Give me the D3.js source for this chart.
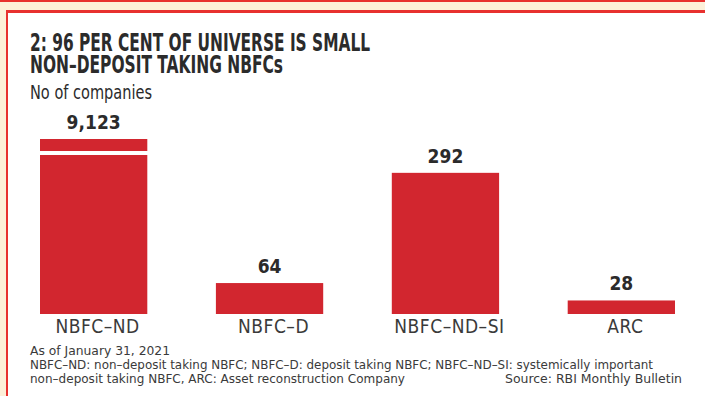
<!DOCTYPE html>
<html>
<head>
<meta charset="utf-8">
<script src="https://cdn.jsdelivr.net/npm/d3@7"></script>
<style>
  body { margin: 0; background: #fdf0d9; }
  svg { display: block; }
  text { font-family: "DejaVu Sans Condensed", "DejaVu Sans", sans-serif; }
</style>
</head>
<body>
<script>
// data
var categories = ["NBFC-ND", "NBFC-D", "NBFC-ND-SI", "ARC"];
var counts     = [9123, 64, 292, 28];
var labels     = ["9,123", "64", "292", "28"];

var W = 705, H = 396;
var red = "#d2262f";
var ink = "#2b2b2b";

var svg = d3.select("body")
            .append("svg")
            .attr("width",  W)
            .attr("height", H);

// frame
svg.append("rect").attr("x", 0).attr("y", 0).attr("width", W).attr("height", H).attr("fill", "#fdf0d9");
svg.append("rect").attr("x", 0).attr("y", 0).attr("width", W).attr("height", 2).attr("fill", "#e8312f");
svg.append("rect").attr("x", 7).attr("y", 11).attr("width", W).attr("height", H).attr("fill", "#fff");
svg.append("rect").attr("x", 6).attr("y", 10).attr("width", W).attr("height", 3).attr("fill", "#e8312f");
svg.append("rect").attr("x", 6).attr("y", 10).attr("width", 2).attr("height", H).attr("fill", "#e8312f");

// titles
svg.append("text").attr("x", 30).attr("y", 51)
   .attr("font-size", 24).attr("font-weight", "bold").attr("fill", ink)
   .attr("textLength", 340).attr("lengthAdjust", "spacingAndGlyphs")
   .text("2: 96 PER CENT OF UNIVERSE IS SMALL");
svg.append("text").attr("x", 30).attr("y", 73)
   .attr("font-size", 24).attr("font-weight", "bold").attr("fill", ink)
   .attr("textLength", 253).attr("lengthAdjust", "spacingAndGlyphs")
   .text("NON\u2013DEPOSIT TAKING NBFCs");
svg.append("text").attr("x", 30).attr("y", 99)
   .attr("font-size", 19).attr("fill", ink)
   .attr("textLength", 122).attr("lengthAdjust", "spacingAndGlyphs")
   .text("No of companies");

// scales
var x = d3.scaleBand()
          .domain(categories)
          .range([40, 675])
          .paddingInner(0.39)
          .paddingOuter(0);

var y = d3.scaleLinear()
          .domain([0, 362])   // bar for 9,123 is cut off (broken bar)
          .range([314, 139])
          .clamp(true);

var data = categories.map(function(c, i){ return {cat: c, v: counts[i], lab: labels[i]}; });

svg.selectAll("rect.bar")
   .data(data)
   .enter()
   .append("rect")
   .attr("class", "bar")
   .attr("x", function(d){ return x(d.cat); })
   .attr("y", function(d){ return y(d.v); })
   .attr("width", x.bandwidth())
   .attr("height", function(d){ return y(0) - y(d.v); })
   .attr("fill", red);

// break in the bar that goes off the scale
svg.selectAll("rect.brk")
   .data(data.filter(function(d){ return d.v > y.domain()[1]; }))
   .enter()
   .append("rect")
   .attr("class", "brk")
   .attr("x", function(d){ return x(d.cat) - 1; })
   .attr("y", y(y.domain()[1]) + 12)
   .attr("width", x.bandwidth() + 2)
   .attr("height", 4)
   .attr("fill", "#fff");

// value labels
svg.selectAll("text.val")
   .data(data)
   .enter()
   .append("text")
   .attr("class", "val")
   .attr("x", function(d){ return x(d.cat) + x.bandwidth() / 2; })
   .attr("y", function(d){ return y(d.v) - 10; })
   .attr("text-anchor", "middle")
   .attr("font-size", 19).attr("font-weight", "bold").attr("fill", ink)
   .text(function(d){ return d.lab; });

// category axis
var xAxis = svg.append("g")
   .attr("transform", "translate(4," + y(0) + ")")
   .call(d3.axisBottom(x).tickSize(0).tickPadding(5));
xAxis.select(".domain").remove();
xAxis.selectAll("text")
   .attr("font-size", 19).attr("fill", "#3a3a3a")
   .style("font-family", "\"DejaVu Sans Condensed\", \"DejaVu Sans\", sans-serif")
   .style("letter-spacing", "0.5px")
   .attr("dy", "0.75em")
   .text(function(d){ return d.replace(/-/g, "\u2013"); });

// footnotes
var notes = svg.append("g").attr("fill", "#3a3a3a");
notes.append("text").attr("x", 30).attr("y", 355).attr("font-size", 13)
     .attr("textLength", 140).attr("lengthAdjust", "spacingAndGlyphs")
     .text("As of January 31, 2021");
notes.append("text").attr("x", 30).attr("y", 369).attr("font-size", 13)
     .attr("textLength", 623).attr("lengthAdjust", "spacingAndGlyphs")
     .text("NBFC\u2013ND: non\u2013deposit taking NBFC; NBFC\u2013D: deposit taking NBFC; NBFC\u2013ND\u2013SI: systemically important");
notes.append("text").attr("x", 30).attr("y", 383).attr("font-size", 13)
     .attr("textLength", 375).attr("lengthAdjust", "spacingAndGlyphs")
     .text("non\u2013deposit taking NBFC, ARC:  Asset reconstruction Company");
notes.append("text").attr("x", 682).attr("y", 383).attr("font-size", 13)
     .attr("text-anchor", "end")
     .attr("textLength", 177).attr("lengthAdjust", "spacingAndGlyphs")
     .text("Source:  RBI Monthly Bulletin");
</script>
</body>
</html>
